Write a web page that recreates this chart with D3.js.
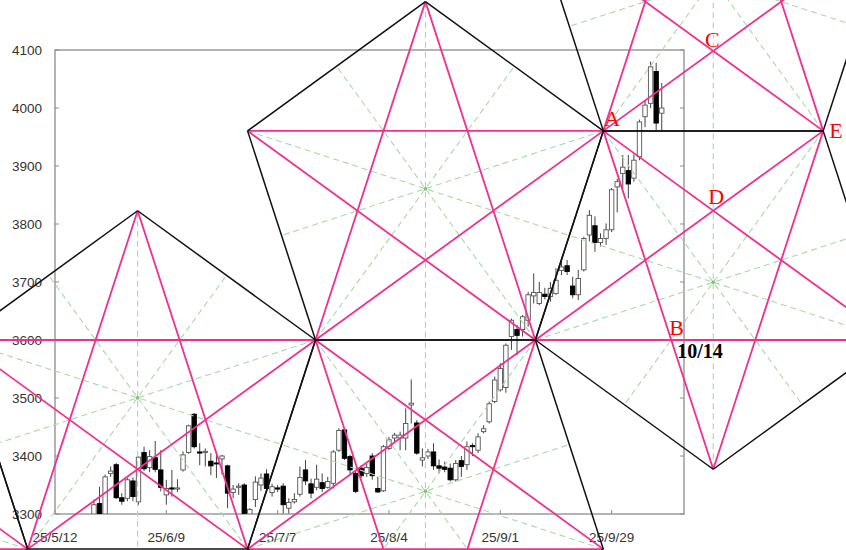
<!DOCTYPE html>
<html><head><meta charset="utf-8">
<script src="https://cdn.jsdelivr.net/npm/d3@7"></script>
<style>body{margin:0;background:#fff}svg{display:block}</style>
</head><body>
<svg id="c" width="846" height="550"></svg>
<script>
// ---------- data ----------
const dates = ["05-21","05-22","05-23","05-26","05-27","05-28","05-29","05-30",
"06-02","06-03","06-04","06-05","06-06","06-09","06-10","06-11","06-12","06-13","06-16","06-17","06-18","06-19","06-20","06-23","06-24","06-25","06-26","06-27","06-30",
"07-01","07-02","07-03","07-04","07-07","07-08","07-09","07-10","07-11","07-14","07-15","07-16","07-17","07-18","07-21","07-22","07-23","07-24","07-25","07-28","07-29","07-30","07-31",
"08-01","08-04","08-05","08-06","08-07","08-08","08-11","08-12","08-13","08-14","08-15","08-18","08-19","08-20","08-21","08-22","08-25","08-26","08-27","08-28","08-29",
"09-01","09-02","09-03","09-04","09-05","09-08","09-09","09-10","09-11","09-12","09-15","09-16","09-17","09-18","09-19","09-22","09-23","09-24","09-25","09-26","09-29","09-30",
"10-01","10-02","10-03","10-06","10-07","10-08","10-09","10-10"];
const opens = [3300,3318,3300,3370,3385,3328,3327,3357,3321,3406,3380,3397,3376,3333,3345,3343,3376,3406,3472,3407,3406,3391,3388,3395,3383,3337,3346,3350,3300,3325,3350,3369,3337,3345,3348,3310,3321,3334,3376,3352,3346,3354,3346,3353,3410,3445,3399,3370,3379,3370,3400,3344,3340,3413,3431,3431,3431,3488,3457,3393,3400,3407,3383,3381,3379,3359,3392,3385,3418,3410,3442,3459,3494,3514,3518,3606,3618,3618,3634,3676,3663,3679,3675,3680,3720,3728,3693,3678,3721,3781,3797,3768,3775,3790,3864,3887,3892,3879,3916,3985,4008,4063,3991];
const highs = [3325,3347,3368,3382,3388,3336,3362,3363,3399,3416,3410,3426,3410,3359,3376,3360,3408,3454,3474,3422,3413,3405,3402,3402,3385,3350,3353,3353,3310,3365,3370,3377,3352,3350,3353,3327,3336,3382,3393,3361,3385,3370,3364,3410,3448,3448,3402,3376,3384,3387,3405,3364,3419,3433,3440,3442,3482,3532,3462,3413,3412,3422,3394,3390,3387,3393,3400,3425,3422,3439,3453,3494,3537,3560,3594,3637,3626,3643,3683,3715,3700,3690,3700,3724,3738,3738,3709,3721,3778,3824,3813,3784,3801,3862,3878,3919,3919,3920,3980,4014,4080,4078,4043];
const lows = [3290,3285,3292,3364,3326,3316,3322,3322,3316,3374,3372,3372,3339,3316,3330,3338,3373,3404,3413,3384,3382,3367,3362,3368,3310,3327,3333,3298,3290,3312,3340,3338,3330,3338,3301,3301,3318,3330,3350,3327,3341,3338,3344,3344,3407,3393,3367,3336,3362,3364,3359,3336,3338,3410,3425,3410,3410,3456,3402,3382,3395,3376,3370,3372,3356,3356,3364,3376,3400,3405,3439,3456,3491,3511,3509,3583,3574,3606,3623,3663,3660,3670,3666,3678,3712,3712,3672,3669,3718,3770,3752,3761,3764,3786,3820,3860,3844,3873,3910,3967,4000,3962,3962];
const closes = [3316,3295,3364,3374,3328,3322,3359,3330,3398,3378,3399,3377,3346,3344,3343,3345,3402,3452,3416,3405,3408,3383,3387,3400,3336,3343,3348,3301,3308,3355,3362,3344,3347,3343,3316,3320,3325,3363,3357,3336,3360,3344,3356,3407,3444,3396,3376,3339,3366,3380,3366,3338,3416,3428,3436,3436,3456,3491,3405,3397,3407,3383,3379,3377,3359,3387,3382,3416,3416,3433,3447,3490,3531,3551,3591,3634,3608,3640,3678,3682,3682,3675,3689,3703,3726,3718,3678,3706,3775,3815,3768,3775,3790,3859,3873,3898,3869,3910,3976,4005,4071,3974,4000];
const yTicks = [3300,3400,3500,3600,3700,3800,3900,4000,4100];
const xTickDates = ["2025-05-12","2025-06-09","2025-07-07","2025-08-04","2025-09-01","2025-09-29"];
const xTickLabels = ["25/5/12","25/6/9","25/7/7","25/8/4","25/9/1","25/9/29"];
// base side of the central pentagon: two anchor points on the 3600 line (weekday positions from 25/5/12)
const starBaseIndex = [46.8, 86.3];
const starBasePrice = 3600;
const pointNames = ["A","B","C","D","E"];
const forecastText = "10/14";

// ---------- scales ----------
const origin = Date.UTC(2025,4,12);
function weekdayIndex(s){
  const [Y,M,D] = s.split("-").map(Number);
  const days = Math.round((Date.UTC(Y,M-1,D)-origin)/864e5);
  return Math.floor(days/7)*5 + Math.min(((days%7)+7)%7,5);
}
const L=55,R=684,T=50,B=514;
const x = d3.scaleLinear().domain([0,113]).range([L,R]);
const y = d3.scaleLinear().domain([3300,4100]).range([B,T]);
const svg = d3.select("#c");

const candles = dates.map((d,i)=>({i:weekdayIndex("2025-"+d),o:opens[i],h:highs[i],l:lows[i],c:closes[i]}));

// ---------- frame ----------
svg.append("defs").append("clipPath").attr("id","pc").append("rect")
  .attr("x",L).attr("y",T).attr("width",R-L).attr("height",B-T);
const frame = svg.append("g");
frame.append("rect").attr("x",L).attr("y",T).attr("width",R-L).attr("height",B-T)
  .attr("fill","none").attr("stroke","#8c8c8c").attr("stroke-width",1.3);
frame.selectAll(".yl").data(yTicks).join("line")
  .attr("x1",L).attr("x2",L+4).attr("y1",d=>y(d)).attr("y2",d=>y(d)).attr("stroke","#8c8c8c");
frame.selectAll(".yr").data(yTicks).join("line")
  .attr("x1",R-4).attr("x2",R).attr("y1",d=>y(d)).attr("y2",d=>y(d)).attr("stroke","#8c8c8c");
frame.selectAll(".xt").data(xTickDates).join("line")
  .attr("x1",d=>x(weekdayIndex(d))).attr("x2",d=>x(weekdayIndex(d)))
  .attr("y1",B).attr("y2",B-4).attr("stroke","#8c8c8c");
frame.selectAll(".ytxt").data(yTicks).join("text")
  .attr("x",42).attr("y",d=>y(d)).attr("dy","0.35em").attr("text-anchor","end")
  .attr("font-family","Liberation Sans, Arial, sans-serif").attr("font-size",13.5).attr("fill","#333")
  .text(d=>d);
frame.selectAll(".xtxt").data(xTickDates).join("text")
  .attr("x",d=>x(weekdayIndex(d))).attr("y",542).attr("text-anchor","middle")
  .attr("font-family","Liberation Sans, Arial, sans-serif").attr("font-size",13.5).attr("fill","#333")
  .text((d,k)=>xTickLabels[k]);

// ---------- candles ----------
const cg = svg.append("g").attr("clip-path","url(#pc)");
const bw = 4.4;
cg.selectAll(".wick").data(candles).join("line")
  .attr("x1",d=>x(d.i)).attr("x2",d=>x(d.i)).attr("y1",d=>y(d.h)).attr("y2",d=>y(d.l))
  .attr("stroke","#444").attr("stroke-width",1);
cg.selectAll(".body").data(candles).join("rect")
  .attr("x",d=>x(d.i)-bw/2).attr("width",bw)
  .attr("y",d=>y(Math.max(d.o,d.c))).attr("height",d=>Math.max(1,Math.abs(y(d.o)-y(d.c))))
  .attr("fill",d=>d.c>=d.o?"#fff":"#000").attr("stroke",d=>d.c>=d.o?"#555":"#000").attr("stroke-width",0.9);

// ---------- pentagon / pentagram geometry ----------
const p0 = [x(starBaseIndex[0]), y(starBasePrice)];
const p1 = [x(starBaseIndex[1]), y(starBasePrice)];
const s = p1[0]-p0[0];
const rad = Math.PI/180;
const cx = s*Math.cos(72*rad), sy = s*Math.sin(72*rad), hh = s*(Math.sin(72*rad)+Math.sin(36*rad));
function upright(bl){const [a,b]=bl;return [[a,b],[a+s,b],[a+s+cx,b-sy],[a+s/2,b-hh],[a-cx,b-sy]];}
function inverted(tl){const [a,b]=tl;return [[a,b],[a+s,b],[a+s+cx,b+sy],[a+s/2,b+hh],[a-cx,b+sy]];}
const P1 = upright(p0);
const P3 = inverted(p0);
const P4 = inverted(P1[2]);
const P5 = upright(P1[2]);
const P2 = upright([p0[0]-cx-s, p0[1]+sy]);
const P6 = inverted([P2[4][0]-s, P2[4][1]]);
const pents = [P1,P2,P3,P4,P5,P6];

const mid=(a,b)=>[(a[0]+b[0])/2,(a[1]+b[1])/2];
const axes=[],diags=[],sides=[],centers=[];
pents.forEach(P=>{
  centers.push([d3.mean(P,d=>d[0]),d3.mean(P,d=>d[1])]);
  for(let k=0;k<5;k++){
    sides.push([P[k],P[(k+1)%5]]);
    diags.push([P[k],P[(k+2)%5]]);
    axes.push([P[k],mid(P[(k+2)%5],P[(k+3)%5])]);
  }
});
const gg = svg.append("g");
gg.selectAll(".ax").data(axes).join("line")
  .attr("x1",d=>d[0][0]).attr("y1",d=>d[0][1]).attr("x2",d=>d[1][0]).attr("y2",d=>d[1][1])
  .attr("stroke","#a9d9a9").attr("stroke-width",1.1).attr("stroke-dasharray","6,4");
gg.selectAll(".dg").data(diags).join("line")
  .attr("x1",d=>d[0][0]).attr("y1",d=>d[0][1]).attr("x2",d=>d[1][0]).attr("y2",d=>d[1][1])
  .attr("stroke","#f0308c").attr("stroke-width",1.8);
gg.selectAll(".sd").data(sides).join("line")
  .attr("x1",d=>d[0][0]).attr("y1",d=>d[0][1]).attr("x2",d=>d[1][0]).attr("y2",d=>d[1][1])
  .attr("stroke","#111").attr("stroke-width",1.5);
gg.selectAll(".ct").data(centers).join("circle")
  .attr("cx",d=>d[0]).attr("cy",d=>d[1]).attr("r",1.8).attr("fill","#7cc47c");

// ---------- labels ----------
function inter(a,b,c,d){
  const d1=[b[0]-a[0],b[1]-a[1]], d2=[d[0]-c[0],d[1]-c[1]];
  const den=d1[0]*d2[1]-d1[1]*d2[0];
  const t=((c[0]-a[0])*d2[1]-(c[1]-a[1])*d2[0])/den;
  return [a[0]+t*d1[0],a[1]+t*d1[1]];
}
const A = P1[2], E = P4[1];
const Cp = inter(A,P5[2],E,P5[4]);
const Dp = inter(A,P4[2],E,P4[4]);
const Bp = inter(A,P4[3],[0,p0[1]],[846,p0[1]]);
const lab = [
  {t:pointNames[0],x:A[0]+1,y:A[1]-5,a:"start"},
  {t:pointNames[1],x:Bp[0]-2,y:Bp[1]-5,a:"start"},
  {t:pointNames[2],x:Cp[0]-1,y:Cp[1]-4,a:"middle"},
  {t:pointNames[3],x:Dp[0]+3,y:Dp[1]-7,a:"middle"},
  {t:pointNames[4],x:E[0]+6,y:E[1]+7,a:"start"}
];
svg.selectAll(".pl").data(lab).join("text")
  .attr("x",d=>d.x).attr("y",d=>d.y).attr("text-anchor",d=>d.a)
  .attr("font-family","Liberation Serif, Times New Roman, serif").attr("font-size",22).attr("fill","#ff0000")
  .text(d=>d.t);
svg.append("text").attr("x",Bp[0]+6).attr("y",Bp[1]+18)
  .attr("font-family","Liberation Serif, Times New Roman, serif").attr("font-size",20).attr("font-weight","bold")
  .attr("fill","#000").text(forecastText);
</script>
</body></html>
